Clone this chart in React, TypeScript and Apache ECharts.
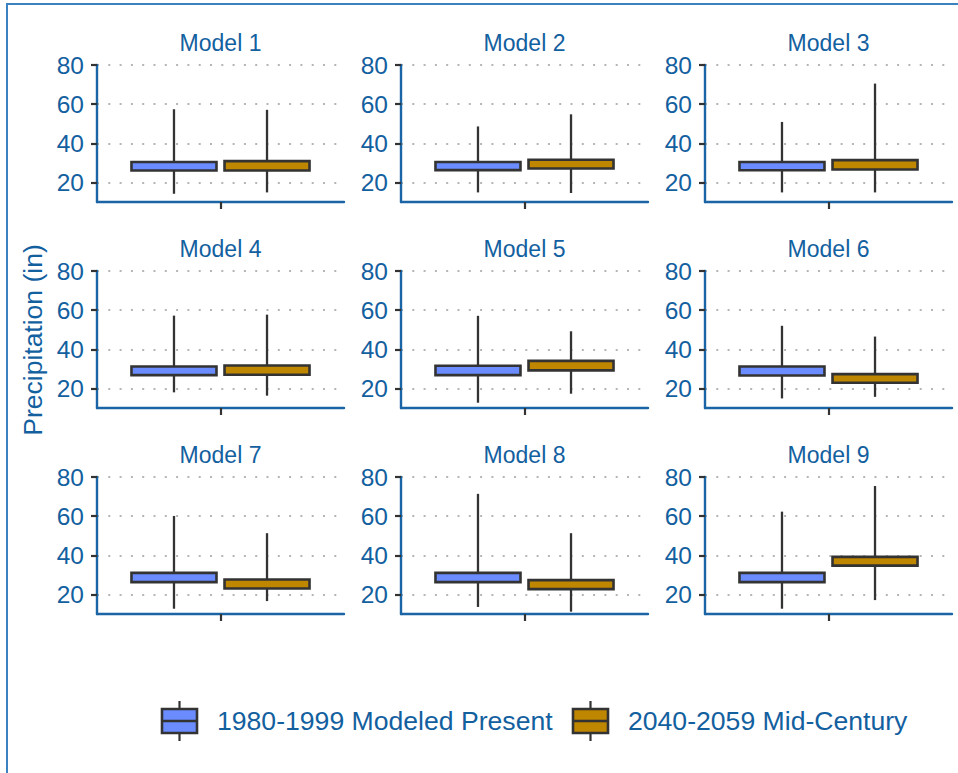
import React, { useEffect, useRef } from "react";
import * as echarts from "echarts";

// ---------- data ----------
const models = ["Model 1", "Model 2", "Model 3", "Model 4", "Model 5", "Model 6", "Model 7", "Model 8", "Model 9"];
const groups = ["1980-1999 Modeled Present", "2040-2059 Mid-Century"];

// [lower whisker, Q1, Q3, upper whisker] per model
const presentStats = [
  [14.2, 26.1, 30.4, 57.4],
  [14.9, 26.3, 30.4, 48.6],
  [14.9, 26.2, 30.4, 50.9],
  [18.0, 26.8, 31.2, 57.2],
  [12.7, 26.8, 31.6, 57.1],
  [14.9, 26.6, 31.2, 52.0],
  [12.7, 26.3, 31.0, 60.1],
  [13.6, 26.3, 31.0, 71.4],
  [12.7, 26.3, 31.0, 62.3],
];
const midCenturyStats = [
  [14.9, 26.1, 30.9, 57.1],
  [14.6, 27.1, 31.6, 54.8],
  [14.9, 26.6, 31.4, 70.5],
  [16.3, 27.0, 31.7, 57.7],
  [17.3, 29.2, 34.1, 49.2],
  [15.7, 22.9, 27.3, 46.5],
  [16.6, 23.0, 27.6, 51.3],
  [11.2, 22.7, 27.3, 51.3],
  [17.1, 34.7, 39.2, 75.4],
];
const yTicks = [20, 40, 60, 80];
const yName = "Precipitation (in)";

// ---------- style / layout ----------
const FONT = "'Liberation Sans', Arial, sans-serif";
const TEXT = "#13609f";
const AXIS = "#1b64a5";
const FRAME = "#3a83c0";
const DARK = "#333333";
const COLORS = ["#6a8cff", "#bf8600"];
const GRID_LEFTS = [97, 401, 705];
const GRID_TOPS = [65, 271, 477];
const GRID_W = 247;
const GRID_H = 137;
const DODGE = 0.226;
const BOX_W = 0.413;

const renderBox = (params: any, api: any) => {
  const x = api.value(0);
  const pMin = api.coord([x, api.value(1)]);
  const yQ1 = api.coord([x, api.value(2)])[1];
  const yQ3 = api.coord([x, api.value(3)])[1];
  const yMax = api.coord([x, api.value(4)])[1];
  const cx = pMin[0];
  const w = api.size([BOX_W, 0])[0];
  return {
    type: "group",
    children: [
      { type: "line", shape: { x1: cx, y1: yMax, x2: cx, y2: yQ3 }, style: { stroke: DARK, lineWidth: 2.3 } },
      { type: "line", shape: { x1: cx, y1: yQ1, x2: cx, y2: pMin[1] }, style: { stroke: DARK, lineWidth: 2.3 } },
      {
        type: "rect",
        shape: { x: cx - w / 2, y: yQ3, width: w, height: yQ1 - yQ3 },
        style: { fill: api.visual("color"), stroke: DARK, lineWidth: 2.6 },
      },
    ],
  };
};

export default function App() {
  const ref = useRef<HTMLDivElement>(null);
  useEffect(() => {
    if (!ref.current) return;
    const chart = echarts.init(ref.current, null, { renderer: "svg" });
    const grid: any[] = [];
    const xAxis: any[] = [];
    const yAxis: any[] = [];
    const series: any[] = [];
    const graphic: any[] = [];

    graphic.push({
      type: "rect",
      shape: { x: 7, y: 4, width: 1100, height: 1100 },
      style: { fill: "none", stroke: FRAME, lineWidth: 2 },
      z: 0,
    });

    models.forEach((m, i) => {
      const col = i % 3;
      const row = Math.floor(i / 3);
      const left = GRID_LEFTS[col];
      const top = GRID_TOPS[row];
      grid.push({ left, top, width: GRID_W, height: GRID_H, containLabel: false });
      xAxis.push({
        gridIndex: i,
        type: "value",
        min: 0.4,
        max: 1.6,
        axisLine: { show: true, onZero: false, lineStyle: { color: AXIS, width: 2.4 } },
        axisTick: { show: true, customValues: [1], length: 7, lineStyle: { color: DARK, width: 2.2 } },
        axisLabel: { show: false },
        splitLine: { show: false },
      });
      yAxis.push({
        gridIndex: i,
        type: "value",
        min: 10,
        max: 80,
        axisLine: { show: true, onZero: false, lineStyle: { color: AXIS, width: 2.4 } },
        axisTick: { show: true, customValues: yTicks, length: 6, lineStyle: { color: DARK, width: 2.2 } },
        axisLabel: { customValues: yTicks, color: TEXT, fontSize: 24.5, fontFamily: FONT, margin: 13 },
        splitLine: { show: true, lineStyle: { color: "#b5b5b5", width: 2, type: [2, 9.3] } },
      });
      [presentStats, midCenturyStats].forEach((stats, g) => {
        series.push({
          type: "custom",
          name: groups[g],
          xAxisIndex: i,
          yAxisIndex: i,
          itemStyle: { color: COLORS[g] },
          encode: { x: 0, y: [1, 2, 3, 4] },
          data: [[1 + (g === 0 ? -DODGE : DODGE), ...stats[i]]],
          renderItem: renderBox,
          z: 3,
        });
      });
      graphic.push({
        type: "text",
        x: left + GRID_W / 2,
        y: top - 22,
        style: {
          text: m,
          fill: TEXT,
          font: `23px ${FONT}`,
          textAlign: "center",
          textVerticalAlign: "middle",
        },
      });
    });

    graphic.push({
      type: "text",
      x: 33,
      y: 340,
      rotation: Math.PI / 2,
      style: { text: yName, fill: TEXT, font: `26.5px ${FONT}`, textAlign: "center", textVerticalAlign: "middle" },
    });

    // legend
    const legendX = [162, 573];
    const legendTextX = [217, 628];
    groups.forEach((gname, g) => {
      const lx = legendX[g];
      const cx = lx + 17.5;
      graphic.push(
        { type: "line", shape: { x1: cx, y1: 701, x2: cx, y2: 741 }, style: { stroke: DARK, lineWidth: 2.2 } },
        {
          type: "rect",
          shape: { x: lx, y: 709, width: 35, height: 24 },
          style: { fill: COLORS[g], stroke: DARK, lineWidth: 2.6 },
        },
        { type: "line", shape: { x1: lx, y1: 721, x2: lx + 35, y2: 721 }, style: { stroke: DARK, lineWidth: 2.4 } },
        {
          type: "text",
          x: legendTextX[g],
          y: 721,
          style: { text: gname, fill: TEXT, font: `26.6px ${FONT}`, textAlign: "left", textVerticalAlign: "middle" },
        }
      );
    });

    chart.setOption({
      animation: false,
      backgroundColor: "#ffffff",
      grid,
      xAxis,
      yAxis,
      series,
      graphic,
    });
    return () => chart.dispose();
  }, []);
  return <div ref={ref} style={{ position: "absolute", left: 0, top: 0, width: 958, height: 773 }} />;
}
